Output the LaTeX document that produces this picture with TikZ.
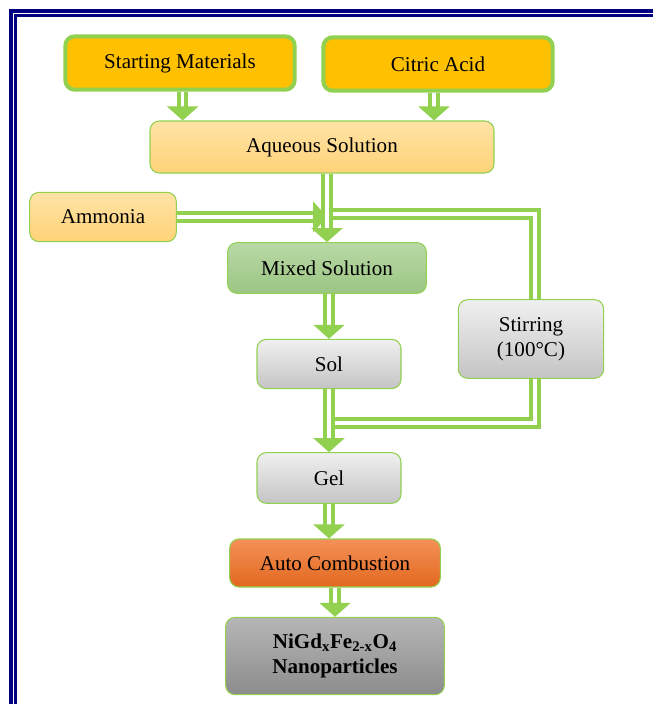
\documentclass[tikz,border=0pt]{standalone}
\usepackage{fontspec}
\setmainfont{Liberation Serif}
\usetikzlibrary{arrows.meta}
\definecolor{leaf}{RGB}{146,208,80}
\definecolor{amber}{RGB}{255,192,0}
\definecolor{navyline}{RGB}{0,0,128}
\definecolor{paleTop}{RGB}{255,227,166}
\definecolor{paleBot}{RGB}{255,211,120}
\definecolor{mixTop}{RGB}{184,216,166}
\definecolor{mixBot}{RGB}{156,198,132}
\definecolor{grayTop}{RGB}{240,240,240}
\definecolor{grayBot}{RGB}{196,196,196}
\definecolor{fireTop}{RGB}{244,145,88}
\definecolor{fireBot}{RGB}{226,104,30}
\definecolor{endTop}{RGB}{182,182,182}
\definecolor{endBot}{RGB}{140,140,140}
\tikzset{%
  >={Triangle[width=23pt,length=10.5pt]},
          base/.style = {rectangle, rounded corners=7pt, draw=leaf, line width=0.8pt,
                         text centered, align=center, inner sep=2pt,
                         font=\fontsize{15.8}{19}\selectfont},
  boxTop/.style  = {base, line width=3pt, fill=amber, minimum width=172pt, minimum height=40pt},
  boxPale/.style = {base, top color=paleTop, bottom color=paleBot},
  boxMix/.style  = {base, top color=mixTop, bottom color=mixBot},
  boxGray/.style = {base, top color=grayTop, bottom color=grayBot},
  boxFire/.style = {base, top color=fireTop, bottom color=fireBot},
  boxEnd/.style  = {base, top color=endTop, bottom color=endBot, font=\fontsize{15.8}{19}\selectfont\bfseries},
  pipe/.style    = {draw=leaf, line width=3pt, double=white, double distance=2.4pt},
}

\begin{document}
\begin{tikzpicture}[x=0.75pt, y=-0.75pt]
  \useasboundingbox (0,0) rectangle (653,704);
  \clip (0,0) rectangle (653,704);

  % frame
  \draw[navyline, line width=2.4pt] (11,11) rectangle (700,760);
  \draw[navyline, line width=1.6pt] (15.5,15.5) rectangle (700,760);

  \node (onStart)    [boxTop]                                          at (180,63)  {Starting Materials};
  \node (onCitric)   [boxTop]                                          at (438,64)  {Citric Acid};
  \node (onAqueous)  [boxPale, minimum width=258pt, minimum height=39pt] at (322,147) {Aqueous Solution};
  \node (onAmmonia)  [boxPale, minimum width=110pt, minimum height=37pt] at (103,217) {Ammonia};
  \node (onMixed)    [boxMix,  minimum width=149pt, minimum height=38pt] at (327,268) {Mixed Solution};
  \node (onStir)     [boxGray, minimum width=109pt, minimum height=59pt] at (531,339) {Stirring\\(100°C)};
  \node (onSol)      [boxGray, minimum width=108pt, minimum height=37pt] at (329,364) {Sol};
  \node (onGel)      [boxGray, minimum width=108pt, minimum height=38pt] at (329,478) {Gel};
  \node (onAuto)     [boxFire, minimum width=158pt, minimum height=36pt] at (335,563) {Auto Combustion};
  \node (onNano)     [boxEnd,  minimum width=164pt, minimum height=58pt] at (335,656)
        {NiGd\textsubscript{x}Fe\textsubscript{2-x}O\textsubscript{4}\\Nanoparticles};

  \coordinate (onSplit) at (onMixed.north |- 0,214);
  \coordinate (onMerge) at (onSol.south |- 0,423);

  \draw[pipe, ->] ([xshift=2pt]onStart.south) -- ([xshift=2pt]onStart.south |- onAqueous.north);
  \draw[pipe, ->] ([xshift=-3pt]onCitric.south) -- ([xshift=-3pt]onCitric.south |- onAqueous.north);

  \draw[pipe]     (onSplit) -| ([xshift=3pt]onStir.north);
  \draw[pipe]     ([xshift=3pt]onStir.south) |- (onMerge);
  \draw[pipe, ->] (onAmmonia.east) -- (onAmmonia.east -| onMixed.north);
  \draw[pipe, ->] (onMixed.north |- onAqueous.south) -- (onMixed.north);

  \draw[pipe, ->] (onSol.north |- onMixed.south) -- (onSol.north);
  \draw[pipe, ->] (onSol.south) -- (onGel.north);
  \draw[pipe, ->] (onGel.south) -- (onGel.south |- onAuto.north);
  \draw[pipe, ->] (onAuto.south) -- (onNano.north);
\end{tikzpicture}
\end{document}
